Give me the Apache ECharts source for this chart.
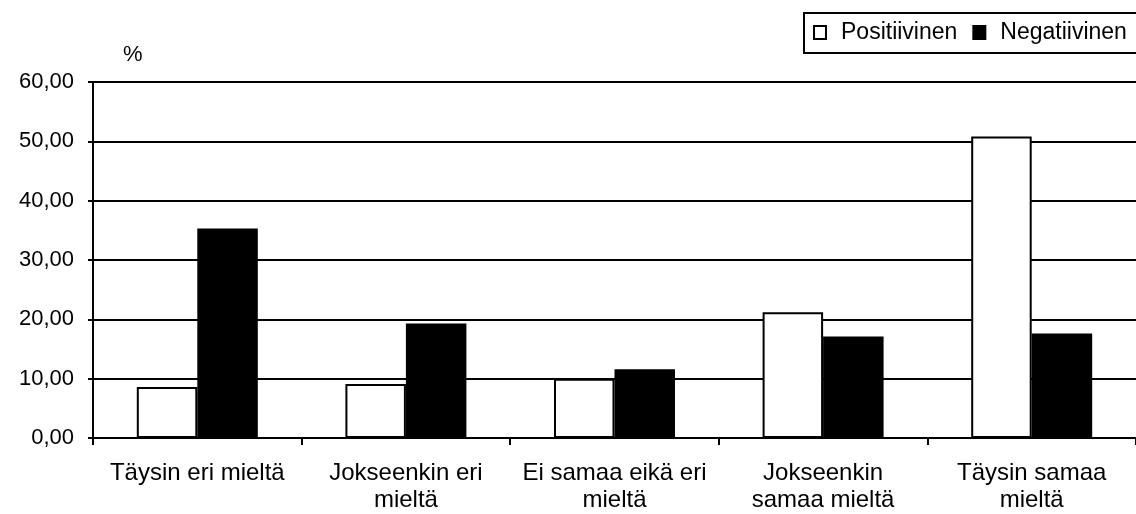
<!DOCTYPE html>
<html>
<head>
<meta charset="utf-8">
<script src="https://cdn.jsdelivr.net/npm/echarts@6/dist/echarts.min.js"></script>
<style>
  html, body { margin: 0; padding: 0; background: #fff; }
  #chart { width: 1136px; height: 514px; }
</style>
</head>
<body>
<div id="chart"></div>
<script>
var chartDom = document.getElementById('chart');
var myChart = echarts.init(chartDom);

// luokat ja arvot (%)
var categories = ['Täysin eri mieltä', 'Jokseenkin eri\nmieltä', 'Ei samaa eikä eri\nmieltä', 'Jokseenkin\nsamaa mieltä', 'Täysin samaa\nmieltä'];
var positiivinen = [8.6, 9.1, 10.0, 21.2, 50.8];
var negatiivinen = [35.3, 19.3, 11.6, 17.1, 17.6];
var seriesNames = ['Positiivinen', 'Negatiivinen'];

var font = '"Liberation Sans", Arial, sans-serif';

var option = {
    animation: false,
    backgroundColor: '#fff',
    textStyle: { fontFamily: font },
    legend: {
        data: seriesNames,
        orient: 'horizontal',
        left: 804,
        top: 13,
        width: 420,
        itemWidth: 12,
        itemHeight: 13,
        itemGap: 15,
        padding: [8, 18, 9, 9],
        borderColor: '#000',
        borderWidth: 2,
        backgroundColor: '#fff',
        icon: 'rect',
        textStyle: { fontSize: 23, color: '#000', fontFamily: font, padding: [0, 0, 0, 10] }
    },
    grid: {
        left: 93,
        right: -11,
        top: 82,
        bottom: 76,
        containLabel: false
    },
    xAxis: {
        type: 'category',
        data: categories,
        axisLine: { lineStyle: { color: '#000', width: 2 } },
        axisTick: { show: true, length: 7, lineStyle: { color: '#000', width: 2 } },
        axisLabel: { color: '#000', fontSize: 24, margin: 22, lineHeight: 27, interval: 0, fontFamily: font }
    },
    yAxis: {
        type: 'value',
        min: 0,
        max: 60,
        interval: 10,
        name: '%',
        nameLocation: 'end',
        nameGap: 16,
        nameTextStyle: { color: '#000', fontSize: 22, align: 'left', padding: [0, 0, 0, 30], fontFamily: font },
        axisLine: { show: true, lineStyle: { color: '#000', width: 2 } },
        axisTick: { show: true, length: 5, lineStyle: { color: '#000', width: 2 } },
        axisLabel: {
            color: '#000', fontSize: 22, margin: 19, fontFamily: font,
            formatter: function (v) { return v.toFixed(2).replace('.', ','); }
        },
        splitLine: { show: true, lineStyle: { color: '#000', width: 2 } }
    },
    series: [
        {
            name: seriesNames[0],
            type: 'bar',
            data: positiivinen,
            barGap: '0%',
            barCategoryGap: '42%',
            itemStyle: { color: '#fff', borderColor: '#000', borderWidth: 2 }
        },
        {
            name: seriesNames[1],
            type: 'bar',
            data: negatiivinen,
            itemStyle: { color: '#000', borderColor: '#000', borderWidth: 2 }
        }
    ]
};

option && myChart.setOption(option);
</script>
</body>
</html>
